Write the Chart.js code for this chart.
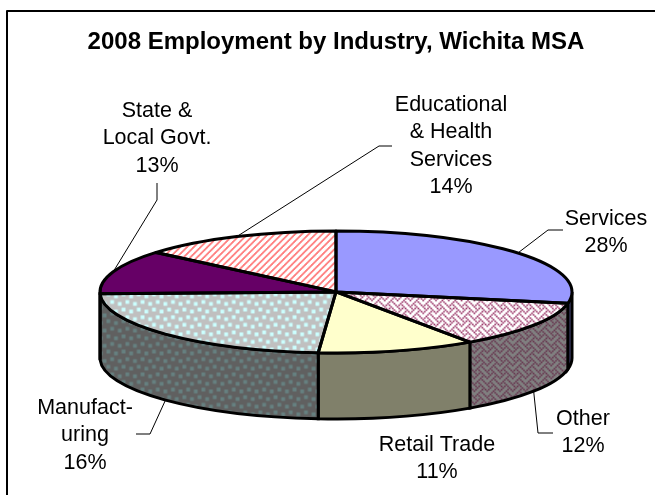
<!DOCTYPE html>
<html>
<head>
<meta charset="utf-8">
<style>
  html, body { margin: 0; padding: 0; background: #fff; overflow: hidden; }
  canvas { display: block; }
</style>
<script src="https://cdn.jsdelivr.net/npm/chart.js@4"></script>
</head>
<body>
<canvas id="myChart" width="655" height="495"></canvas>
<script>
const categories = ['Services', 'Other', 'Retail Trade', 'Manufacturing', 'State & Local Govt.', 'Educational & Health Services'];
// slice sizes as drawn in the picture (the printed percentages are not the same)
const sliceValues = [28, 12.4, 10.8, 23.3, 11.7, 13.8];
const printedLabels = [
  ['Services', '28%'],
  ['Other', '12%'],
  ['Retail Trade', '11%'],
  ['Manufact-', 'uring', '16%'],
  ['State &', 'Local Govt.', '13%'],
  ['Educational', '& Health', 'Services', '14%']
];

// tilt of the pie
const radiusX = 236, radiusY = 61, depth = 66;
const squash = radiusY / radiusX;

// label block centre x, first line y, and where the leader line bends
const labelSpots = [
  { x: 606, y: 219, bend: [[548, 230], [563, 230]] },
  { x: 583, y: 419, bend: [[538, 433], [553, 433]], wall: true },
  { x: 437, y: 445 },
  { x: 85, y: 408, bend: [[150, 434], [136, 434]], wall: true },
  { x: 157, y: 111, bend: [[157, 200], [157, 183]] },
  { x: 451, y: 105, bend: [[379, 146], [392, 146]] }
];

function hatch(rows, fg, bg, scale) {
  const tile = document.createElement('canvas');
  tile.width = tile.height = 8;
  const t = tile.getContext('2d');
  t.fillStyle = bg;
  t.fillRect(0, 0, 8, 8);
  t.fillStyle = fg;
  rows.forEach((row, y) => {
    for (let x = 0; x < 8; x++) {
      if (row & (0x80 >> x)) t.fillRect(x, y, 1, 1);
    }
  });
  return { tile, scale };
}

const ctx = document.getElementById('myChart').getContext('2d');

function toPattern(h, yScale) {
  const p = ctx.createPattern(h.tile, 'repeat');
  p.setTransform(new DOMMatrix().scale(h.scale, h.scale * yScale));
  return p;
}

const weaveBits = [0x88, 0x54, 0x22, 0x45, 0x88, 0x14, 0x22, 0x51];
const confettiBits = [0xC0, 0xCC, 0x0C, 0x00, 0x30, 0x33, 0x03, 0x00];
const stripeBits = [0x83, 0x07, 0x0E, 0x1C, 0x38, 0x70, 0xE0, 0xC1];

const topFills = [
  '#9999FF',
  toPattern(hatch(weaveBits, '#993366', '#FFFFFF', 1.6), 1 / squash),
  '#FFFFCC',
  toPattern(hatch(confettiBits, '#CCFFFF', '#C0C0C0', 1.9), 1 / squash),
  '#660066',
  toPattern(hatch(stripeBits, '#FF8080', '#FFFFFF', 0.85), 1 / squash)
];
const wallFills = [
  '#4D4D80',
  toPattern(hatch(weaveBits, '#66334D', '#808080', 1.6), 1),
  '#80806A',
  toPattern(hatch(confettiBits, '#668080', '#606060', 1.9), 1),
  '#330033',
  '#804040'
];

const tiltedPie = {
  id: 'tiltedPie',
  beforeDatasetsDraw(chart) {
    const c = chart.ctx;
    const arcs = chart.getDatasetMeta(0).data;
    const cx = arcs[0].x, cy = arcs[0].y;

    // side wall, only the front half of the rim shows
    arcs.forEach((arc, i) => {
      const a = Math.max(arc.startAngle, 0);
      const b = Math.min(arc.endAngle, Math.PI);
      if (b <= a) return;
      c.beginPath();
      c.ellipse(cx, cy, radiusX, radiusY, 0, a, b);
      c.ellipse(cx, cy + depth, radiusX, radiusY, 0, b, a, true);
      c.closePath();
      c.fillStyle = wallFills[i];
      c.fill();
      c.strokeStyle = '#000';
      c.lineWidth = 3;
      c.stroke();
    });

    c.save();
    c.translate(cx, cy);
    c.scale(1, squash);
    c.translate(-cx, -cy);
  },
  afterDatasetsDraw(chart) {
    const c = chart.ctx;
    c.restore();
    const arcs = chart.getDatasetMeta(0).data;
    const cx = arcs[0].x, cy = arcs[0].y;

    // slice outlines are stroked here so the squash does not thin them
    arcs.forEach((arc) => {
      c.beginPath();
      c.moveTo(cx, cy);
      c.ellipse(cx, cy, radiusX, radiusY, 0, arc.startAngle, arc.endAngle);
      c.closePath();
      c.strokeStyle = '#000';
      c.lineWidth = 3;
      c.lineJoin = 'round';
      c.stroke();
    });

    // frame, only top and left are in the crop
    c.beginPath();
    c.moveTo(7, 495);
    c.lineTo(7, 11);
    c.lineTo(655, 11);
    c.strokeStyle = '#000';
    c.lineWidth = 2;
    c.stroke();

    arcs.forEach((arc, i) => {
      const spot = labelSpots[i];
      if (spot.bend) {
        const mid = (arc.startAngle + arc.endAngle) / 2;
        const ax = cx + radiusX * Math.cos(mid);
        const ay = cy + radiusY * Math.sin(mid) + (spot.wall ? depth : 0);
        c.beginPath();
        c.moveTo(ax, ay);
        spot.bend.forEach((p) => c.lineTo(p[0], p[1]));
        c.lineWidth = 1;
        c.stroke();
      }
      c.fillStyle = '#000';
      c.font = '21.5px "Liberation Sans", Arial, sans-serif';
      c.textAlign = 'center';
      c.textBaseline = 'middle';
      printedLabels[i].forEach((line, n) => c.fillText(line, spot.x, spot.y + n * 27.3));
    });
  }
};

const data = {
  labels: categories,
  datasets: [{
    data: sliceValues,
    backgroundColor: topFills,
    borderWidth: 0
  }]
};

const config = {
  type: 'pie',
  data: data,
  plugins: [tiltedPie],
  options: {
    responsive: false,
    animation: false,
    events: [],
    radius: radiusX,
    layout: { padding: { left: 17 } },
    plugins: {
      legend: { display: false },
      tooltip: { enabled: false },
      title: {
        display: true,
        text: '2008 Employment by Industry, Wichita MSA',
        color: '#000',
        font: { family: '"Liberation Sans", Arial, sans-serif', size: 24, weight: 'bold' },
        padding: { top: 27.5, bottom: 32.5 }
      }
    }
  }
};

const myChart = new Chart(ctx, config);
</script>
</body>
</html>
